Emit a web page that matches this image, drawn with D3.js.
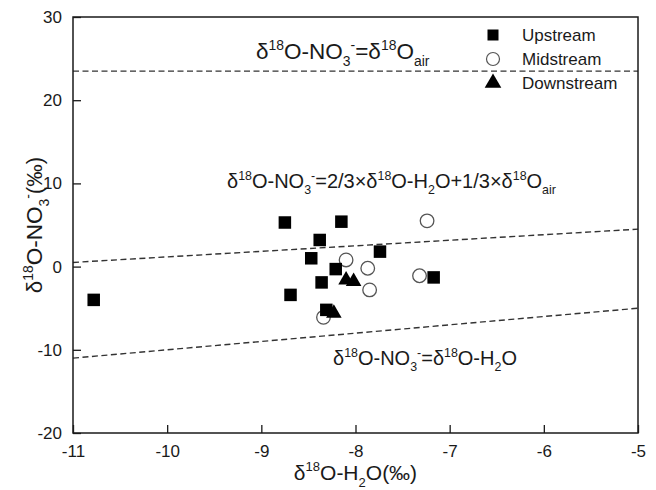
<!DOCTYPE html>
<html>
<head>
<meta charset="utf-8">
<script src="https://cdn.jsdelivr.net/npm/d3@7"></script>
<style>
  html, body { margin: 0; padding: 0; background: #fff; }
  svg { display: block; font-family: "Liberation Sans", Arial, sans-serif; }
</style>
</head>
<body>
<svg id="chart" width="656" height="490"></svg>
<script>
// Axis ticks
const xTickValues = [-11, -10, -9, -8, -7, -6, -5];
const yTickValues = [-20, -10, 0, 10, 20, 30];

// Sampling sites: δ18O-H2O (x) and δ18O-NO3- (y), ‰
const upstreamX   = [-10.78, -8.75, -8.15, -8.38, -8.47, -7.74, -8.21, -8.36, -7.17, -8.69, -8.31];
const upstreamY   = [-4.0,    5.3,   5.4,   3.2,   1.0,   1.8,  -0.3,  -1.9,  -1.3,  -3.4,  -5.2];
const midstreamX  = [-7.24, -8.10, -7.87, -7.32, -7.85, -8.34];
const midstreamY  = [ 5.5,   0.8,  -0.2,  -1.1,  -2.8,  -6.1];
const downstreamX = [-8.10, -8.02, -8.23];
const downstreamY = [-1.6,  -1.8,  -5.6];

const seriesNames = ["Upstream", "Midstream", "Downstream"];

// δ18O of atmospheric O2 (‰)
const o18Air = 23.5;

const W = 656, H = 490;
const margin = { left: 73, top: 17, right: 18, bottom: 57 };
const x = d3.scaleLinear().domain([-11, -5]).range([margin.left, W - margin.right]);
const y = d3.scaleLinear().domain([-20, 30]).range([H - margin.bottom, margin.top]);

const svg = d3.select("#chart");
const ink = "#1a1a1a";

// Text with super/subscripts; segs = [text, "n"|"sup"|"sub"]
function richText(parent, px, py, segs, fs, anchor) {
  const t = parent.append("text")
    .attr("x", px).attr("y", py)
    .attr("font-size", fs)
    .attr("text-anchor", anchor || "start")
    .attr("fill", ink);
  let cur = 0;
  segs.forEach(([s, k]) => {
    const target = k === "sup" ? -0.42 * fs : k === "sub" ? 0.32 * fs : 0;
    const ts = t.append("tspan").text(s).attr("dy", target - cur);
    if (k !== "n") ts.attr("font-size", fs * 0.62);
    cur = target;
  });
  return t;
}

// Reference lines
const lineGen = d3.line().x(d => x(d[0])).y(d => y(d[1]));
const xs = x.domain();
const refLines = [
  xs.map(v => [v, o18Air]),                       // δ18O-NO3- = δ18O_air
  xs.map(v => [v, 2 / 3 * v + o18Air / 3]),       // nitrification mixing
  xs.map(v => [v, v])                             // δ18O-NO3- = δ18O-H2O
];
svg.append("g").selectAll("path").data(refLines).join("path")
  .attr("d", lineGen)
  .attr("fill", "none")
  .attr("stroke", "#333")
  .attr("stroke-width", 1.4)
  .attr("stroke-dasharray", "6,3.5");

// Frame
svg.append("rect")
  .attr("x", x(-11)).attr("y", y(30))
  .attr("width", x(-5) - x(-11)).attr("height", y(-20) - y(30))
  .attr("fill", "none").attr("stroke", ink).attr("stroke-width", 1.5);

// Axes with inward ticks
const fmt = d => String(d);
const xAxis = d3.axisBottom(x).tickValues(xTickValues).tickFormat(fmt).tickSizeInner(-8).tickSizeOuter(0).tickPadding(12);
const yAxis = d3.axisLeft(y).tickValues(yTickValues).tickFormat(fmt).tickSizeInner(-8).tickSizeOuter(0).tickPadding(11);
const gx = svg.append("g").attr("transform", `translate(0,${y(-20)})`).call(xAxis);
const gy = svg.append("g").attr("transform", `translate(${x(-11)},0)`).call(yAxis);
[gx, gy].forEach(g => {
  g.select(".domain").remove();
  g.selectAll("line").attr("stroke", ink).attr("stroke-width", 1.3);
  g.selectAll("text").attr("fill", ink).attr("font-size", 17)
    .attr("font-family", "'Liberation Sans', Arial, sans-serif");
});

// Axis titles
richText(svg, (x(-11) + x(-5)) / 2, 480,
  [["δ", "n"], ["18", "sup"], ["O-H", "n"], ["2", "sub"], ["O(‰)", "n"]], 21, "middle");
const yt = svg.append("g").attr("transform", `translate(42,${(y(30) + y(-20)) / 2}) rotate(-90)`);
richText(yt, 0, 0,
  [["δ", "n"], ["18", "sup"], ["O-NO", "n"], ["3", "sub"], ["-", "sup"], ["(‰)", "n"]], 22.5, "middle");

// Line annotations
richText(svg, 256, 59,
  [["δ", "n"], ["18", "sup"], ["O-NO", "n"], ["3", "sub"], ["-", "sup"], ["=δ", "n"], ["18", "sup"], ["O", "n"], ["air", "sub"]], 22.5);
richText(svg, 227, 188,
  [["δ", "n"], ["18", "sup"], ["O-NO", "n"], ["3", "sub"], ["-", "sup"], ["=2/3×δ", "n"], ["18", "sup"], ["O-H", "n"], ["2", "sub"],
   ["O+1/3×δ", "n"], ["18", "sup"], ["O", "n"], ["air", "sub"]], 20);
richText(svg, 333, 365,
  [["δ", "n"], ["18", "sup"], ["O-NO", "n"], ["3", "sub"], ["-", "sup"], ["=δ", "n"], ["18", "sup"], ["O-H", "n"], ["2", "sub"], ["O", "n"]], 20);

// Markers
const pts = (xa, ya) => xa.map((v, i) => [v, ya[i]]);
const sqSide = 12.5;
const triSym = d3.symbol().type(d3.symbolTriangle).size(105);

svg.append("g").selectAll("circle").data(pts(midstreamX, midstreamY)).join("circle")
  .attr("cx", d => x(d[0])).attr("cy", d => y(d[1])).attr("r", 6.8)
  .attr("fill", "#fff").attr("stroke", "#555").attr("stroke-width", 1.3);

svg.append("g").selectAll("rect").data(pts(upstreamX, upstreamY)).join("rect")
  .attr("x", d => x(d[0]) - sqSide / 2).attr("y", d => y(d[1]) - sqSide / 2)
  .attr("width", sqSide).attr("height", sqSide).attr("fill", "#000");

svg.append("g").selectAll("path").data(pts(downstreamX, downstreamY)).join("path")
  .attr("transform", d => `translate(${x(d[0])},${y(d[1])})`)
  .attr("d", triSym).attr("fill", "#000");

// Legend
const legend = svg.append("g").attr("transform", "translate(493,35)");
const rowH = 24;
legend.append("rect").attr("x", -5.5).attr("y", -5.5).attr("width", 11).attr("height", 11).attr("fill", "#000");
legend.append("circle").attr("cx", 0).attr("cy", rowH).attr("r", 6.5).attr("fill", "#fff").attr("stroke", "#555").attr("stroke-width", 1.2);
legend.append("path").attr("transform", `translate(0,${rowH * 2})`).attr("d", d3.symbol().type(d3.symbolTriangle).size(120)).attr("fill", "#000");
legend.selectAll("text").data(seriesNames).join("text")
  .attr("x", 29).attr("y", (d, i) => i * rowH).attr("dy", "0.35em")
  .attr("font-size", 17).attr("fill", ink).text(d => d);
</script>
</body>
</html>
